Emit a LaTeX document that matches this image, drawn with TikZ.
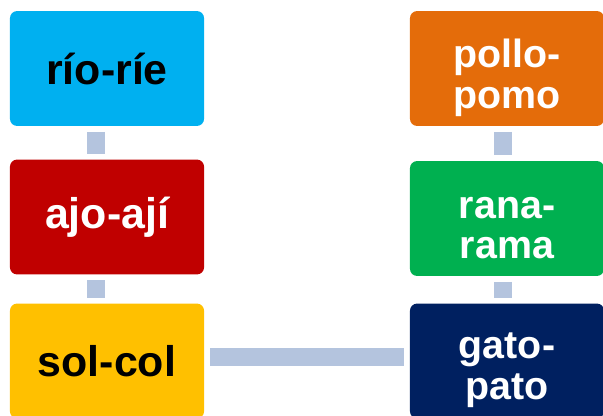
\documentclass[tikz,border=0pt]{standalone}
\usepackage{fontspec}
\setmainfont{Liberation Sans}
\usepackage{tikz}
\usetikzlibrary{positioning, calc}
\usepackage{xcolor}
\definecolor{RioBlue}{RGB}{0, 176, 240}
\definecolor{AjoRed}{RGB}{192, 0, 0}
\definecolor{SolYellow}{RGB}{255, 192, 0}
\definecolor{PolloOrange}{RGB}{228, 108, 10}
\definecolor{RanaGreen}{RGB}{0, 176, 80}
\definecolor{GatoNavy}{RGB}{0, 32, 96}
\definecolor{LinkGray}{RGB}{180, 196, 222}

\begin{document}
\begin{tikzpicture}[x=0.025cm, y=-0.025cm]
        \tikzstyle{word} = [rectangle, rounded corners=5pt, minimum width=4.85cm,
          minimum height=2.87cm, align=center, inner sep=0pt,
          font=\fontsize{30.5}{32.5}\selectfont\bfseries]
        \tikzstyle{twoline} = [align=center, inner sep=0pt, text=white,
          font=\fontsize{28}{29}\selectfont\bfseries]
        \tikzstyle{link} = [draw=LinkGray, line width=0.46cm,
          shorten <=0.14cm, shorten >=0.14cm]

        \useasboundingbox (0,0) rectangle (603,415);

        % left column
        \node[word, fill=RioBlue, text=black] (rio) at (107, 68.5) {río-ríe};
        \node[word, fill=AjoRed, text=white] (ajo) at (107, 217) {ajo-ají};
        \node[word, fill=SolYellow, text=black] (sol) at (107, 361) {sol-col};

        % right column
        \node[word, fill=PolloOrange] (pollo) at (507, 68.5) {};
        \node[word, fill=RanaGreen] (rana) at (507, 218.5) {};
        \node[word, fill=GatoNavy] (gato) at (507, 361) {};
        \node[twoline] (pollotext) at ([yshift=-0.24cm]pollo) {pollo-\\pomo};
        \node[twoline] (ranatext) at ([yshift=-0.24cm]rana) {rana-\\rama};
        \node[twoline] (gatotext) at ([yshift=-0.24cm]gato) {gato-\\pato};

        % connectors
        \draw[link] ([xshift=-0.27cm]rio.south) -- ([xshift=-0.27cm]rio.south |- ajo.north);
        \draw[link] ([xshift=-0.27cm]ajo.south) -- ([xshift=-0.27cm]ajo.south |- sol.north);
        \draw[link] ([yshift=0.1cm]sol.east) -- ([yshift=0.1cm]sol.east -| gato.west);
        \draw[link] ([xshift=-0.1cm]pollo.south) -- ([xshift=-0.1cm]pollo.south |- rana.north);
        \draw[link] ([xshift=-0.1cm]rana.south) -- ([xshift=-0.1cm]rana.south |- gato.north);
      \end{tikzpicture}
\end{document}
